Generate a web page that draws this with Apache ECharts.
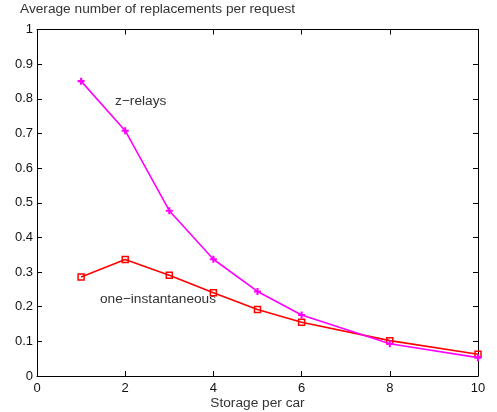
<!DOCTYPE html>
<html>
<head>
<meta charset="utf-8">
<script src="https://cdn.jsdelivr.net/npm/echarts@6/dist/echarts.min.js"></script>
<style>
  html, body { margin: 0; padding: 0; background: #fff; }
  #chart { width: 497px; height: 412px; }
</style>
</head>
<body>
<div id="chart"></div>
<script>
// Storage per car (x) and the average replacement count for each scheme
const storage = [1, 2, 3, 4, 5, 6, 8, 10];
const zRelays = [0.851, 0.708, 0.477, 0.337, 0.244, 0.176, 0.093, 0.053];
const oneInstantaneous = [0.286, 0.336, 0.291, 0.240, 0.192, 0.155, 0.102, 0.063];

const xTicks = [0, 2, 4, 6, 8, 10];
const yTicks = [0, 0.1, 0.2, 0.3, 0.4, 0.5, 0.6, 0.7, 0.8, 0.9, 1];

const FONT = 'Liberation Sans, Arial, Helvetica, sans-serif';
const TEXT_SIZE = 13.7;
const plusPath = 'path://M3.5,0 L6.5,0 L6.5,3.5 L10,3.5 L10,6.5 L6.5,6.5 L6.5,10 L3.5,10 L3.5,6.5 L0,6.5 L0,3.5 L3.5,3.5 Z';

const pairs = (ys) => storage.map((x, i) => [x, ys[i]]);

const boxLine = { show: true, onZero: false, lineStyle: { color: '#000', width: 1 } };
const innerTick = { show: true, inside: true, length: 5, lineStyle: { color: '#000' } };

const chart = echarts.init(document.getElementById('chart'), null, { renderer: 'canvas' });
chart.setOption({
  animation: false,
  backgroundColor: '#fff',
  grid: {
    left: 37, right: 19, top: 29.5, bottom: 36,
    containLabel: false, outerBoundsMode: 'none'
  },
  title: {
    text: 'Average number of replacements per request',
    left: 20, top: 2, padding: 0,
    textStyle: { fontFamily: FONT, fontSize: TEXT_SIZE, fontWeight: 'normal', color: '#333' }
  },
  xAxis: [{
    type: 'value', min: 0, max: 10, interval: 2,
    name: 'Storage per car', nameLocation: 'middle', nameGap: 20,
    nameMoveOverlap: false,
    nameTextStyle: { fontFamily: FONT, fontSize: TEXT_SIZE, color: '#333' },
    axisLine: boxLine, axisTick: innerTick,
    axisLabel: { fontFamily: FONT, fontSize: 13, color: '#111', margin: 6,
      formatter: (v) => xTicks.includes(v) ? String(v) : '' },
    splitLine: { show: false }
  }, {
    type: 'value', position: 'top', min: 0, max: 10, interval: 2,
    axisLine: boxLine, axisTick: innerTick,
    axisLabel: { show: false }, splitLine: { show: false }
  }],
  yAxis: [{
    type: 'value', min: 0, max: 1, interval: 0.1,
    axisLine: boxLine, axisTick: innerTick,
    axisLabel: { fontFamily: FONT, fontSize: 13, color: '#111', margin: 4,
      formatter: (v) => {
        const t = yTicks.find(k => Math.abs(k - v) < 1e-6);
        return t === undefined ? '' : String(t);
      } },
    splitLine: { show: false }
  }, {
    type: 'value', position: 'right', min: 0, max: 1, interval: 0.1,
    axisLine: boxLine, axisTick: innerTick,
    axisLabel: { show: false }, splitLine: { show: false }
  }],
  series: [{
    name: 'one-instantaneous',
    type: 'line',
    data: pairs(oneInstantaneous),
    lineStyle: { color: '#ff0000', width: 1.6 },
    itemStyle: { color: 'rgba(255,0,0,0)', borderColor: '#ff0000', borderWidth: 1.5 },
    symbol: 'rect', symbolSize: 6,
    z: 2
  }, {
    name: 'z-relays',
    type: 'line',
    data: pairs(zRelays),
    lineStyle: { color: '#ff00ff', width: 1.6 },
    itemStyle: { color: '#ff00ff' },
    symbol: plusPath, symbolSize: 7,
    z: 3
  }],
  graphic: [{
    type: 'text', x: 115, y: 101.5,
    style: { text: 'z\u2212relays', font: TEXT_SIZE + 'px ' + FONT, fill: '#333', verticalAlign: 'middle' }
  }, {
    type: 'text', x: 100, y: 299,
    style: { text: 'one\u2212instantaneous', font: TEXT_SIZE + 'px ' + FONT, fill: '#333', verticalAlign: 'middle' }
  }]
});
</script>
</body>
</html>
